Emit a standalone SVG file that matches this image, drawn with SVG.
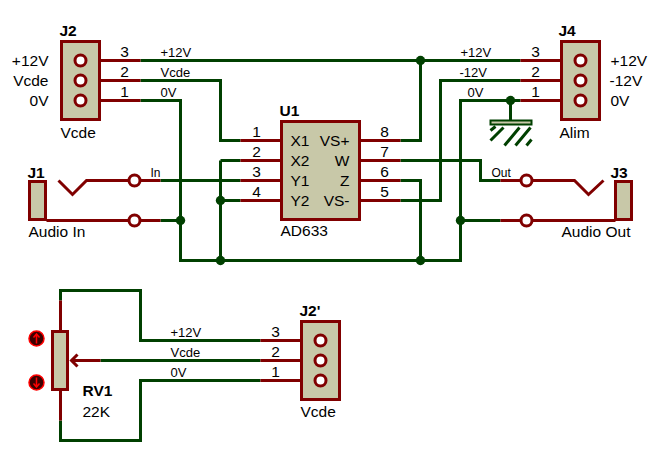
<svg xmlns="http://www.w3.org/2000/svg" width="660" height="460" viewBox="0 0 660 460">
<style>
text{font-family:"Liberation Sans",Arial,sans-serif;fill:#000;font-size:15.5px}
.s{font-size:13px}
.t{font-size:12px}
.b{font-weight:bold}
.m{text-anchor:middle}
.e{text-anchor:end}
.g{fill:none;stroke:#004000;stroke-width:3}
.r{fill:none;stroke:#800000;stroke-width:3}
.box{fill:#c8c8a8;stroke:#800000;stroke-width:3}
.pin{fill:#fff;stroke:#800000;stroke-width:3}
.dot{fill:#004000}
</style>
<rect width="660" height="460" fill="#fff"/>
<g transform="translate(.5 .5)">
<g id="connectors">
<path class="g" d="M140 60H520M140 80H220V140H240M140 100H180V260H460V100H520M220 160H240M220 160V260M160 180H240M160 220H180M220 200H240M400 140H420V60M400 160H480V180H500M400 180H420V260M400 200H440V80H520M460 220H500"/>
<path class="g" d="M60 300V290H140V340H260M60 420V440H140V380H260M100 360H260M510 100V120"/>
<circle class="dot" cx="420" cy="60" r="4.700"/><circle class="dot" cx="510" cy="100" r="4.700"/><circle class="dot" cx="180" cy="220" r="4.700"/><circle class="dot" cx="220" cy="200" r="4.700"/><circle class="dot" cx="220" cy="260" r="4.700"/><circle class="dot" cx="420" cy="260" r="4.700"/><circle class="dot" cx="460" cy="220" r="4.700"/>
</g>
<g id="J2"><path class="r" d="M80 60H140M80 80H140M80 100H140"/><rect class="box" x="61" y="41" width="38" height="78"/>
<circle class="pin" cx="80" cy="60" r="5.500"/><circle class="pin" cx="80" cy="80" r="5.500"/><circle class="pin" cx="80" cy="100" r="5.500"/>
<text class="b" x="59" y="35">J2</text><text x="60" y="137">Vcde</text>
<text class="e" x="48" y="65">+12V</text><text class="e" x="48" y="85">Vcde</text><text class="e" x="48" y="105">0V</text>
<text class="m" x="124" y="56">3</text><text class="m" x="124" y="76">2</text><text class="m" x="124" y="96">1</text>
<text class="s" x="160" y="56">+12V</text><text class="s" x="160" y="76">Vcde</text><text class="s" x="160" y="96">0V</text></g>
<g id="J4"><path class="r" d="M520 60H580M520 80H580M520 100H580"/><rect class="box" x="561" y="41" width="38" height="78"/>
<circle class="pin" cx="580" cy="60" r="5.500"/><circle class="pin" cx="580" cy="80" r="5.500"/><circle class="pin" cx="580" cy="100" r="5.500"/>
<text class="b" x="558" y="35">J4</text><text x="559" y="137">Alim</text>
<text x="610" y="65">+12V</text><text x="609" y="85">-12V</text><text x="610" y="105">0V</text>
<text class="m" x="535" y="56">3</text><text class="m" x="535" y="76">2</text><text class="m" x="535" y="96">1</text>
<text class="s" x="460" y="56">+12V</text><text class="s" x="459" y="76">-12V</text><text class="s" x="467" y="96">0V</text></g>
<g id="GND"><rect x="490" y="120" width="41" height="4" fill="#c8c8a8" stroke="#004000" stroke-width="2"/>
<path class="g" d="M490 130L495 126M490 140L503 127M504 145L519 127M515 145L530 127M526 145L531 139"/></g>
<g id="U1"><path class="r" d="M240 140H280M240 160H280M240 180H280M240 200H280M360 140H400M360 160H400M360 180H400M360 200H400"/>
<rect class="box" x="281" y="121" width="78" height="98"/>
<text class="b" x="279" y="115">U1</text><text x="280" y="235">AD633</text>
<text x="290" y="145">X1</text><text x="290" y="165">X2</text><text x="290" y="185">Y1</text><text x="290" y="205">Y2</text>
<text class="e" x="349" y="145">VS+</text><text class="e" x="349" y="165">W</text><text class="e" x="349" y="185">Z</text><text class="e" x="349" y="205">VS-</text>
<text class="m" x="256" y="136">1</text><text class="m" x="256" y="156">2</text><text class="m" x="256" y="176">3</text><text class="m" x="256" y="196">4</text>
<text class="m" x="384" y="136">8</text><text class="m" x="384" y="156">7</text><text class="m" x="384" y="176">6</text><text class="m" x="384" y="196">5</text></g>
<g id="J1"><path class="r" d="M58 180L72 194L86 180H160M46 220H160"/><rect class="box" x="29" y="181" width="16" height="38"/>
<circle class="pin" cx="134" cy="180" r="5.500"/><circle class="pin" cx="134" cy="220" r="5.500"/>
<text class="b" x="27" y="177">J1</text><text x="28" y="236">Audio In</text><text class="t" x="150" y="176">In</text></g>
<g id="J3"><path class="r" d="M603 180L588 194L574 180H500M615 220H500"/><rect class="box" x="615" y="181" width="16" height="38"/>
<circle class="pin" cx="526" cy="180" r="5.500"/><circle class="pin" cx="526" cy="220" r="5.500"/>
<text class="b" x="610" y="177">J3</text><text x="561" y="236">Audio Out</text><text class="t" x="491" y="176">Out</text></g>
<g id="RV1"><path class="r" d="M60 300V330M60 390V420M100 360H72M77 354L71 360L77 366"/><rect class="box" x="52" y="331" width="15" height="58"/>
<circle cx="36" cy="338" r="7.500" fill="#3c0000" stroke="#f00" stroke-width="1.500"/><circle cx="36" cy="382" r="7.500" fill="#3c0000" stroke="#f00" stroke-width="1.500"/>
<path d="M36 343V334M33 337L36 333.500L39 337M36 377V386M33 383L36 386.500L39 383" fill="none" stroke="#f00" stroke-width="1.500"/>
<text class="b" x="82" y="395">RV1</text><text x="82" y="416">22K</text>
<text class="s" x="170" y="336">+12V</text><text class="s" x="170" y="356">Vcde</text><text class="s" x="170" y="376">0V</text></g>
<g id="J2p"><path class="r" d="M260 340H320M260 360H320M260 380H320"/><rect class="box" x="301" y="321" width="38" height="78"/>
<circle class="pin" cx="320" cy="340" r="5.500"/><circle class="pin" cx="320" cy="360" r="5.500"/><circle class="pin" cx="320" cy="380" r="5.500"/>
<text class="b" x="299" y="315">J2'</text><text x="300" y="416">Vcde</text>
<text class="m" x="275" y="336">3</text><text class="m" x="275" y="356">2</text><text class="m" x="275" y="376">1</text></g>
</g>
</svg>
